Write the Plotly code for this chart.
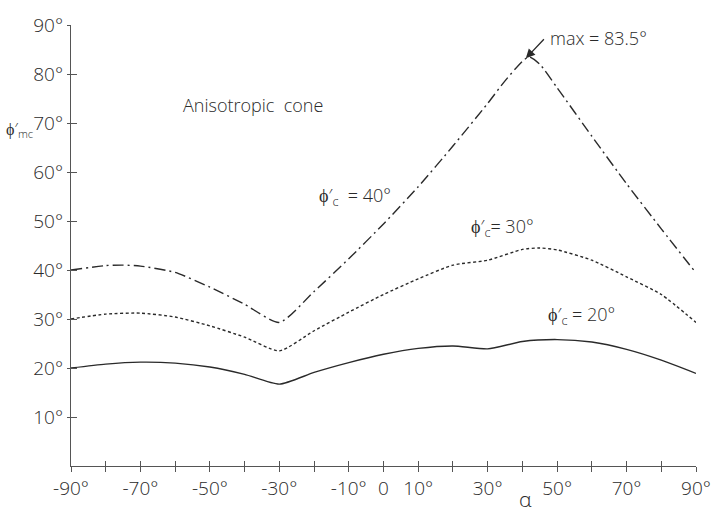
import plotly.graph_objects as go

# ---- data ----
alpha_20 = [-90, -80, -70, -60, -50, -40, -30, -20, -10, 0, 10, 20, 30, 40, 50, 60, 70, 80, 90]
phi_20 = [20.0, 20.8, 21.2, 21.0, 20.2, 18.7, 16.7, 19.1, 21.1, 22.8, 24.0, 24.5, 23.9, 25.4, 25.8, 25.3, 23.8, 21.6, 18.9]

alpha_30 = [-90, -80, -70, -60, -50, -40, -30, -20, -10, 0, 10, 20, 30, 40, 45, 50, 60, 70, 80, 90]
phi_30 = [30.0, 31.0, 31.2, 30.4, 28.6, 26.3, 23.5, 27.6, 31.4, 35.0, 38.2, 41.0, 42.0, 44.2, 44.5, 44.1, 42.0, 38.6, 35.0, 29.3]

alpha_40 = [-90, -80, -75, -70, -60, -50, -40, -30, -20, -10, 0, 10, 20, 30, 35, 40, 42, 45, 50, 60, 70, 80, 90]
phi_40 = [40.0, 40.9, 41.0, 40.8, 39.5, 36.5, 33.0, 29.3, 35.6, 42.3, 49.4, 57.0, 65.3, 74.0, 78.6, 82.6, 83.5, 82.0, 77.2, 67.3, 57.6, 48.4, 39.4]

x_all_ticks = [-90, -80, -70, -60, -50, -40, -30, -20, -10, 0, 10, 20, 30, 40, 50, 60, 70, 80, 90]
x_tickvals = [-90, -70, -50, -30, -10, 0, 10, 30, 50, 70, 90]
x_ticktext = ["-90°", "-70°", "-50°", "-30°", "-10°", "0", "10°", "30°", "50°", "70°", "90°"]
y_tickvals = [10, 20, 30, 40, 50, 60, 70, 80, 90]
y_ticktext = ["10°", "20°", "30°", "40°", "50°", "60°", "70°", "80°", "90°"]

max_alpha = 42
max_phi = 83.5

FONT = "Open Sans"
INK = "#2a2a2a"
AXC = "#555555"

fig = go.Figure()
fig.add_trace(go.Scatter(x=alpha_20, y=phi_20, mode="lines",
                         line=dict(color=INK, width=1.4, shape="spline", smoothing=0.6),
                         showlegend=False, hoverinfo="skip"))
fig.add_trace(go.Scatter(x=alpha_30, y=phi_30, mode="lines",
                         line=dict(color=INK, width=1.4, dash="3px,2.5px", shape="spline", smoothing=0.6),
                         showlegend=False, hoverinfo="skip"))
fig.add_trace(go.Scatter(x=alpha_40, y=phi_40, mode="lines",
                         line=dict(color=INK, width=1.4, dash="11px,4px,2px,4px", shape="spline", smoothing=0.6),
                         showlegend=False, hoverinfo="skip"))
# invisible trace on overlay axes (for crossing tick marks)
fig.add_trace(go.Scatter(x=[-90, 90], y=[0, 90], xaxis="x2", yaxis="y2", mode="markers",
                         marker=dict(opacity=0), showlegend=False, hoverinfo="skip"))

tickfont = dict(family=FONT, size=19, color=INK, weight=300)
fig.update_layout(
    width=723, height=513,
    margin=dict(l=71, r=23, t=22, b=41),
    paper_bgcolor="white", plot_bgcolor="white",
    xaxis=dict(range=[-90, 90], tickmode="array", tickvals=x_tickvals, ticktext=x_ticktext,
               showgrid=False, zeroline=False, showline=True, linecolor=AXC, linewidth=1.3,
               ticks="outside", ticklen=5, tickwidth=1.2, tickcolor=AXC, tickfont=tickfont,
               minor=dict(tickmode="array", tickvals=x_all_ticks, ticks="outside",
                          ticklen=5, tickwidth=1.2, tickcolor=AXC, showgrid=False)),
    yaxis=dict(range=[0, 90], tickvals=y_tickvals, ticktext=y_ticktext,
               showgrid=False, zeroline=False, showline=True, linecolor=AXC, linewidth=1.3,
               ticks="outside", ticklen=3, tickwidth=1.2, tickcolor=AXC, tickfont=tickfont),
    xaxis2=dict(range=[-90, 90], overlaying="x", anchor="y", side="bottom", tickvals=x_all_ticks,
                showticklabels=False, showgrid=False, zeroline=False, showline=False,
                ticks="inside", ticklen=5, tickwidth=1.2, tickcolor=AXC),
    yaxis2=dict(range=[0, 90], overlaying="y", anchor="x", side="left", tickvals=y_tickvals,
                showticklabels=False, showgrid=False, zeroline=False, showline=False,
                ticks="inside", ticklen=6, tickwidth=1.2, tickcolor=AXC),
)

afont = dict(family=FONT, size=18, color=INK, weight=300)
ann = [
    dict(x=-37.7, y=73.7, text="Anisotropic  cone", xanchor="center", yanchor="middle"),
    dict(x=-8.3, y=54.9, text="ϕ′<sub>c</sub>  = 40°", xanchor="center", yanchor="middle"),
    dict(x=34.3, y=48.7, text="ϕ′<sub>c</sub>= 30°", xanchor="center", yanchor="middle"),
    dict(x=57.1, y=30.7, text="ϕ′<sub>c</sub> = 20°", xanchor="center", yanchor="middle"),
    dict(x=47.4, y=87.3, text="max = 83.5°", xanchor="left", yanchor="middle"),
]
for a in ann:
    fig.add_annotation(xref="x", yref="y", showarrow=False, font=afont, **a)

# labels outside the plotting area (paper coordinates)
fig.add_annotation(xref="paper", yref="paper", x=-0.083, y=0.762, text="ϕ′<sub>mc</sub>",
                   showarrow=False, xanchor="center", yanchor="middle",
                   font=dict(family=FONT, size=16, color=INK, weight=300))
fig.add_annotation(xref="paper", yref="paper", x=0.727, y=-0.075, text="α",
                   showarrow=False, xanchor="center", yanchor="middle",
                   font=dict(family=FONT, size=21, color=INK, weight=300))

fig.add_annotation(xref="x", yref="y", axref="x", ayref="y",
                   x=max_alpha - 1.0, y=max_phi - 0.3, ax=46.6, ay=87.4,
                   text="", showarrow=True, arrowhead=2, arrowsize=1.4, arrowwidth=1.3,
                   arrowcolor=INK, standoff=0)

fig.write_html("out.html")
